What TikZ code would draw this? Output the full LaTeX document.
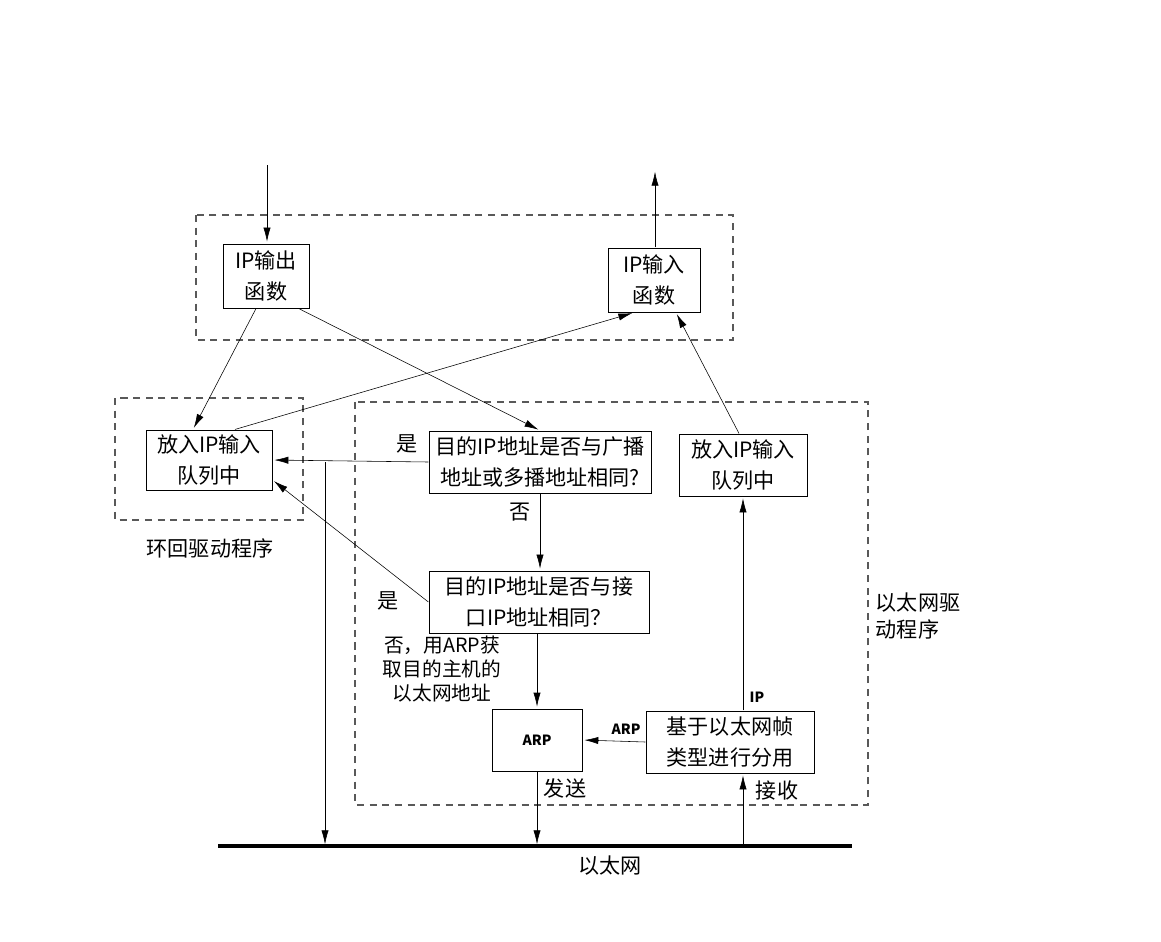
\documentclass[tikz,border=0pt]{standalone}
\usepackage{fontspec}
\setmainfont{Noto Sans CJK SC}
\usepackage{tikz}
\usetikzlibrary{
  arrows.meta,
  calc
}

\begin{document}
\begin{tikzpicture}[x=0.025cm, y=-0.025cm]

\tikzset{
  funcbox/.style={
    draw,
    rectangle,
    fill=white,
    align=center,
    inner sep=2pt,
    font=\fontsize{15}{22}\selectfont
  },
  drvframe/.style={
    draw=black!65,
    dash pattern=on 5pt off 4pt,
    line width=0.9pt
  },
  lbl/.style={
    align=center,
    font=\fontsize{15}{19}\selectfont
  },
  tag/.style={
    font=\fontsize{10}{12}\selectfont\bfseries
  },
  ether/.style={
    line width=2.2pt
  },
  >={Latex[length=4mm, width=2mm]},
  line width=0.8pt
}

\useasboundingbox (0,0) rectangle (1161,941);

% FRAMES ---------------------------------------------------------

% IP layer + loopback driver + Ethernet driver
\draw[drvframe] (196,215) rectangle (733,340);
\draw[drvframe] (115,398) rectangle (303,520);
\draw[drvframe] (355,402) rectangle (868,805);

% NODES ----------------------------------------------------------

% Nodes IP layer
\node[funcbox, minimum width=2.15cm, minimum height=1.6cm] (ipout) at (266,276) {IP输出\\函数};
\node[funcbox, minimum width=2.3cm,  minimum height=1.6cm] (ipin)  at (654,280) {IP输入\\函数};

% Nodes loopback driver
\node[funcbox, minimum width=3.15cm, minimum height=1.5cm] (loopq) at (209,460) {放入IP输入\\队列中};

% Nodes Ethernet driver
\node[funcbox, minimum width=5.55cm, minimum height=1.55cm] (bcast)  at (540,462) {目的IP地址是否与广播\\地址或多播地址相同?};
\node[funcbox, minimum width=3.2cm,  minimum height=1.55cm] (ethq)   at (743,465) {放入IP输入\\队列中};
\node[funcbox, minimum width=5.5cm,  minimum height=1.55cm] (ifaddr) at (539,602) {目的IP地址是否与接\\口IP地址相同？};
\node[funcbox, minimum width=2.25cm, minimum height=1.55cm, font=\fontsize{10}{12}\selectfont\bfseries] (arp) at (537,740) {ARP};
\node[funcbox, minimum width=4.2cm,  minimum height=1.55cm] (demux)  at (730,742) {基于以太网帧\\类型进行分用};

% Ethernet cable + free ends
\coordinate (lanl) at (218,846);
\coordinate (lanr) at (852,846);
\coordinate (lanloop) at (325,846);
\coordinate (insrc) at (267,165);
\coordinate (outdst) at (655,170);

% DRAWS ---------------------------------------------------------

\draw[ether] (lanl) -- (lanr);

% Draws IP layer in / out
\draw[->] (insrc) -- (insrc |- ipout.north);
\draw[->] (ipin.north -| outdst) -- (outdst);

% Draws output side
\draw[->] ([xshift=-0.25cm]ipout.south) -- ([xshift=-0.4cm]loopq.north);
\draw[->] ([xshift=0.82cm]ipout.south) -- (bcast.north);
\draw[->] ([xshift=0.65cm]loopq.north) -- ([xshift=-0.5cm]ipin.south);
\draw[->] ([xshift=-0.1cm]ethq.north) -- ([xshift=0.55cm]ipin.south);

% Draws decisions
\draw[->] (bcast.west) -- (loopq.east);
\draw[->] (lanloop |- bcast.west) -- (lanloop);
\draw[->] (bcast.south) -- (bcast.south |- ifaddr.north);
\draw[->] (ifaddr.west) -- ([yshift=-0.5cm]loopq.east);
\draw[->] (ifaddr.south -| arp.north) -- (arp.north);

% Draws send / receive
\draw[->] (arp.south) -- (arp.south |- lanl);
\draw[->] (demux.west) -- (arp.east);
\draw[->] (ethq.south |- lanl) -- (ethq.south |- demux.south);
\draw[->] (ethq.south |- demux.north) -- (ethq.south);

% Labels
\node[lbl] (yes1) at (407,444) {是};
\node[lbl] (no1)  at (520,512) {否};
\node[lbl] (yes2) at (388,601) {是};
\node[lbl, font=\fontsize{14}{17}\selectfont] (noarp) at (442,669) {否，用ARP获\\取目的主机的\\以太网地址};
\node[lbl] (send) at (565,788) {发送};
\node[lbl] (recv) at (777,790) {接收};
\node[tag] (arptag) at (626,729) {ARP};
\node[tag] (iptag)  at (757,697) {IP};
\node[lbl] (loopname) at (210,548) {环回驱动程序};
\node[lbl, align=left] (ethname) at (918,616) {以太网驱\\动程序};
\node[lbl] (lanname) at (610,866) {以太网};

\end{tikzpicture}
\end{document}
